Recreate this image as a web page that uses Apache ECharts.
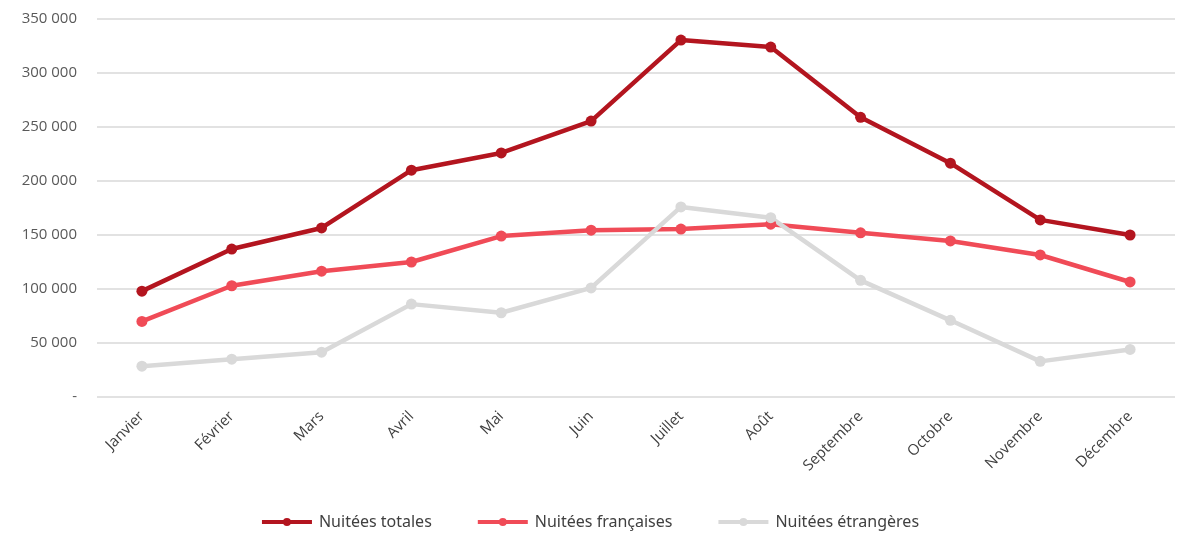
<!DOCTYPE html>
<html>
	<head>
		<meta charset="UTF-8">
		<title>Nuitées</title>
		<script src="https://cdn.jsdelivr.net/npm/echarts@6/dist/echarts.min.js"></script>
		<style>
			html, body { margin: 0; padding: 0; background: #fff; }
		</style>
	</head>
	<body>
		<div id="chart" style="width: 1179px; height: 536px;"></div>
		<script type="text/javascript">
			var mois = ['Janvier', 'Février', 'Mars', 'Avril', 'Mai', 'Juin', 'Juillet', 'Août', 'Septembre', 'Octobre', 'Novembre', 'Décembre'];
			var nuiteesTotales = [98000, 137000, 156500, 210000, 226000, 255500, 330500, 324000, 259000, 216500, 164000, 150000];
			var nuiteesFrancaises = [70000, 103000, 116500, 125000, 149000, 154500, 155500, 160000, 152000, 144500, 131500, 106500];
			var nuiteesEtrangeres = [28500, 35000, 41500, 86000, 78000, 101000, 176000, 166000, 108000, 71000, 33000, 44000];

			var myChart = echarts.init(document.getElementById('chart'));

			function serie(nom, data, couleur) {
				return {
					name: nom,
					type: 'line',
					data: data,
					symbol: 'circle',
					symbolSize: 11,
					lineStyle: { width: 4.5, color: couleur },
					itemStyle: { color: couleur },
					animation: false
				};
			}

			var option = {
				animation: false,
				grid: { left: 97, right: 4, top: 19, bottom: 139, containLabel: false },
				legend: {
					bottom: 1,
					left: 'center',
					itemWidth: 50,
					itemHeight: 10,
					itemGap: 44,
					lineStyle: { width: 4 },
					textStyle: { color: '#404040', fontSize: 16, fontFamily: 'Noto Sans', padding: [0, 0, 0, 2] },
					data: ['Nuitées totales', 'Nuitées françaises', 'Nuitées étrangères']
				},
				xAxis: {
					type: 'category',
					data: mois,
					boundaryGap: true,
					axisLine: { show: false },
					axisTick: { show: false },
					axisLabel: {
						rotate: 45,
						margin: 17,
						color: '#404040',
						fontSize: 15,
						fontFamily: 'Open Sans',
						interval: 0
					}
				},
				yAxis: {
					type: 'value',
					min: 0,
					max: 350000,
					interval: 50000,
					axisLine: { show: false },
					axisTick: { show: false },
					splitLine: { lineStyle: { color: '#d9d9d9', width: 1.5 } },
					axisLabel: {
						margin: 20,
						color: '#595959',
						fontSize: 15,
						fontFamily: 'Open Sans',
						formatter: function(v) {
							if (v === 0) return '-';
							return (v / 1000) + ' 000';
						}
					}
				},
				series: [
					serie('Nuitées totales', nuiteesTotales, '#b3151f'),
					serie('Nuitées françaises', nuiteesFrancaises, '#f04b57'),
					serie('Nuitées étrangères', nuiteesEtrangeres, '#d9d9d9')
				]
			};

			myChart.setOption(option);
		</script>
	</body>
</html>
